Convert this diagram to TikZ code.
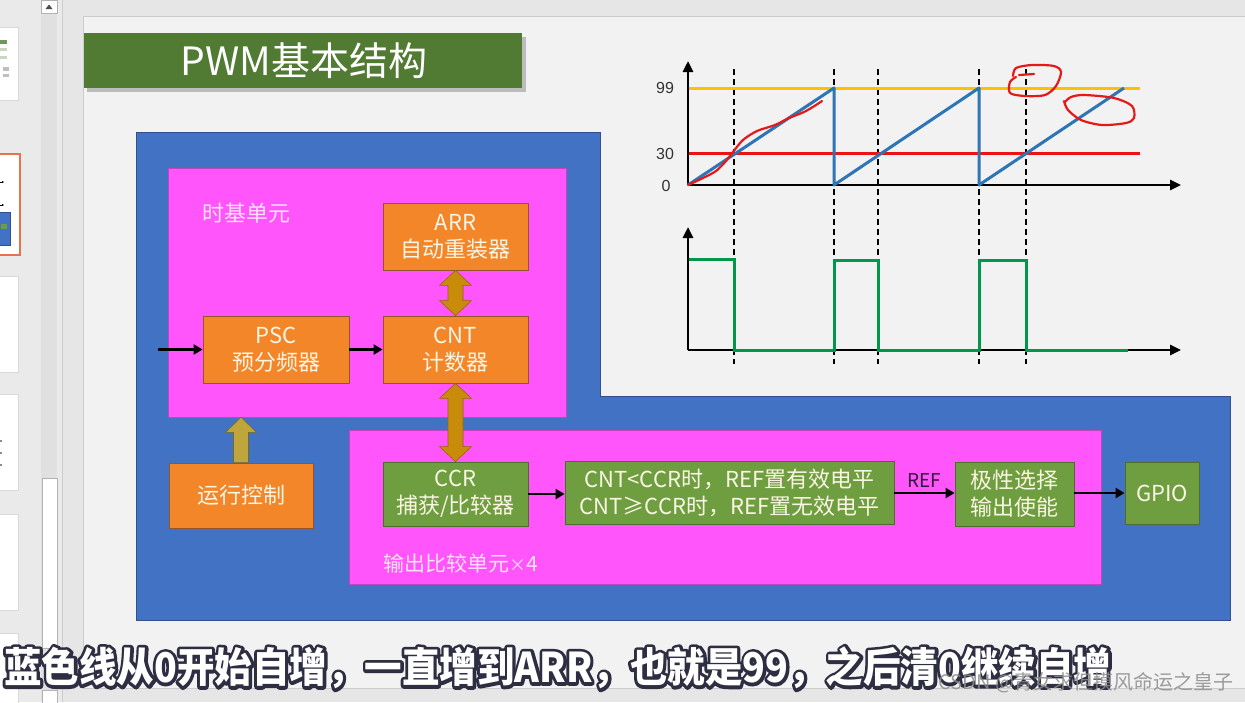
\documentclass[tikz,border=0pt]{standalone}
\usepackage{fontspec}
\setmainfont{Noto Sans CJK SC}
\newfontfamily\arialf{Liberation Sans}
\usetikzlibrary{arrows.meta,calc}
\definecolor{winbg}{RGB}{230,230,230}
\definecolor{sidebg}{RGB}{234,234,234}
\definecolor{slidebg}{RGB}{242,242,242}
\definecolor{titlegreen}{RGB}{81,122,51}
\definecolor{bblue}{RGB}{66,114,196}
\definecolor{bblueb}{RGB}{47,82,143}
\definecolor{magenta2}{RGB}{255,85,250}
\definecolor{magentab}{RGB}{190,70,190}
\definecolor{oboxc}{RGB}{244,134,42}
\definecolor{oboxb}{RGB}{150,85,40}
\definecolor{gboxc}{RGB}{110,158,63}
\definecolor{gboxb}{RGB}{75,110,45}
\definecolor{goldc}{RGB}{200,140,10}
\definecolor{goldb}{RGB}{150,100,10}
\definecolor{olivec}{RGB}{190,166,60}
\definecolor{oliveb}{RGB}{120,105,40}
\definecolor{boxtext}{RGB}{250,245,228}
\definecolor{labtext}{RGB}{255,225,255}
\definecolor{wblue}{RGB}{46,117,182}
\definecolor{wgreen}{RGB}{0,150,75}
\definecolor{worange}{RGB}{255,192,0}
\definecolor{wred}{RGB}{235,20,20}
\definecolor{inkred}{RGB}{230,25,25}
\definecolor{outlinec}{RGB}{45,45,65}
\definecolor{selorange}{RGB}{230,115,75}
\definecolor{refc}{RGB}{50,20,60}
\newcommand\vdarrow[4]{%
  \filldraw[fill=#3,draw=#4,line width=0.6] let \p1=(#1),\p2=(#2) in
   (\x1,\y1) -- (\x1+16pt,\y1-15pt) -- (\x1+7.5pt,\y1-15pt) -- (\x1+7.5pt,\y2+15pt)
   -- (\x1+16pt,\y2+15pt) -- (\x1,\y2) -- (\x1-16pt,\y2+15pt) -- (\x1-7.5pt,\y2+15pt)
   -- (\x1-7.5pt,\y1-15pt) -- (\x1-16pt,\y1-15pt) -- cycle;}
\newcommand\vuparrow[4]{%
  \filldraw[fill=#3,draw=#4,line width=0.6] let \p1=(#1),\p2=(#2) in
   (\x1-7.5pt,\y1) -- (\x1-7.5pt,\y2-15pt) -- (\x1-15.5pt,\y2-15pt) -- (\x1,\y2)
   -- (\x1+15.5pt,\y2-15pt) -- (\x1+7.5pt,\y2-15pt) -- (\x1+7.5pt,\y1) -- cycle;}
\newcommand\subtitletext{蓝色线从0开始自增，一直增到ARR，也就是99，之后清0继续自增}
\begin{document}
\begin{tikzpicture}[x=1pt,y=-1pt,
  boxtxt/.style={font=\fontsize{22}{27}\selectfont, text=boxtext, align=center},
  obox/.style={boxtxt, draw=oboxb, fill=oboxc, line width=0.8, inner sep=0pt},
  gbox/.style={boxtxt, draw=gboxb, fill=gboxc, line width=0.8, inner sep=0pt},
  mbox/.style={draw=magentab, fill=magenta2, line width=0.6, inner sep=0pt},
  blkarrow/.style={draw=black, line width=2.6, -{Triangle[length=9pt,width=10pt]}},
  axisarrow/.style={draw=black, line width=2.6, -{Triangle[length=11pt,width=10pt]}},
  guide/.style={draw=black, line width=1.6, dash pattern=on 6pt off 4pt},
  numlab/.style={font=\arialf\fontsize{16}{16}\selectfont, text=black!80},
  thumb/.style={fill=white, draw=black!15, line width=0.6},
  inkstroke/.style={draw=inkred, line width=2.2, line cap=round, line join=round},
  subfont/.style={font=\bfseries\fontsize{41}{41}\selectfont}
]
\useasboundingbox (0,0) rectangle (1245,702);
% ---------- window ----------
\fill[winbg] (0,0) rectangle (1245,702);
\fill[sidebg] (0,0) rectangle (62,702);
\fill[black!12] (41,0) rectangle (57,702);
\draw[black!20, line width=1] (62,0) -- (62,702);
% thumbnails
\filldraw[thumb] (-2,27) rectangle (18,100);
\fill[titlegreen!80] (0,40) rectangle (7,44);
\fill[titlegreen!30] (0,48) rectangle (7,51);
\fill[titlegreen!30] (0,56) rectangle (7,59);
\fill[black!25] (3,67) rectangle (9,71);
\fill[black!25] (3,74) rectangle (9,77);
\filldraw[fill=white, draw=selorange, line width=2.2] (-2,154) rectangle (20,255);
\draw[black, line width=0.8, -{Triangle[length=2pt,width=2pt]}] (0,182) -- (4,182);
\draw[black, line width=0.8, -{Triangle[length=2pt,width=2pt]}] (0,205) -- (4,205);
\filldraw[fill=bblue, draw=bblueb, line width=0.5] (-1,212) rectangle (10,245);
\fill[gboxc] (1,224) rectangle (7,229);
\filldraw[thumb] (-2,276) rectangle (18,372);
\filldraw[thumb] (-2,394) rectangle (18,490);
\fill[black!45] (0,440) rectangle (2,442);
\fill[black!45] (0,452) rectangle (2,454);
\fill[black!45] (0,464) rectangle (2,466);
\filldraw[thumb] (-2,514) rectangle (18,610);
\filldraw[thumb] (-2,633) rectangle (18,710);
% scrollbar
\filldraw[fill=white, draw=black!30, line width=0.8] (41.5,0) rectangle (57,13);
\fill[black!70] (45.5,9) -- (52.5,9) -- (49,4.5) -- cycle;
\filldraw[fill=white, draw=black!30, line width=0.8] (42,478) rectangle (57,648);
\filldraw[fill=white, draw=black!30, line width=0.8] (42,690) rectangle (57,703);
% ---------- slide ----------
\filldraw[fill=slidebg, draw=black!20, line width=0.8] (83,16) rectangle (1250,688);
% title
\fill[black, opacity=0.22] (87,37) rectangle (526,92);
\fill[titlegreen] (84,33) rectangle (522,88);
\node[font=\fontsize{39}{39}\selectfont, text=white] (title) at (304,61) {PWM基本结构};
% big blue L-shape
\filldraw[fill=bblue, draw=bblueb, line width=1] (136,132) -- (600,132) -- (600,396)
  -- (1230,396) -- (1230,620) -- (136,620) -- cycle;
% magenta units
\node[mbox, minimum width=398pt, minimum height=249pt] (tb) at (367,292.5) {};
\node[mbox, minimum width=752pt, minimum height=154pt] (oc) at (725,507) {};
\node[font=\fontsize{22}{22}\selectfont, text=labtext, anchor=west, inner sep=0pt] (tblab) at (202,213) {时基单元};
\node[font=\fontsize{21}{21}\selectfont, text=labtext, anchor=west, inner sep=0pt] (oclab) at (383,563) {输出比较单元{\fontsize{17}{17}\selectfont ×}4};
% boxes
\node[obox, minimum width=145pt, minimum height=67pt] (arr) at (455.5,236.5) {ARR\\自动重装器};
\node[obox, minimum width=146pt, minimum height=67pt] (psc) at (276,349.5) {PSC\\预分频器};
\node[obox, minimum width=145pt, minimum height=67pt] (cnt) at (455.5,349.5) {CNT\\计数器};
\node[obox, minimum width=144pt, minimum height=65pt] (run) at (241,495.5) {运行控制};
\node[gbox, minimum width=145pt, minimum height=64pt] (ccr) at (455.5,494) {CCR\\捕获/比较器};
\node[gbox, minimum width=329pt, minimum height=63pt] (cmp) at (729.5,493) {CNT<CCR时，REF置有效电平\\CNT≥CCR时，REF置无效电平};
\node[gbox, minimum width=119pt, minimum height=64pt] (pol) at (1014.5,494) {极性选择\\输出使能};
\node[gbox, minimum width=74pt, minimum height=62pt] (gpio) at (1162,493) {GPIO};
% block arrows
\vdarrow{arr.south}{cnt.north}{goldc}{goldb}
\vdarrow{cnt.south}{ccr.north}{goldc}{goldb}
\vuparrow{run.north}{tb.south}{olivec}{oliveb}
% line arrows
\coordinate (in) at (158,349.5);
\draw[blkarrow] (in) -- (psc.west);
\draw[blkarrow] (psc.east) -- (cnt.west);
\draw[blkarrow] (ccr.east) -- (ccr.east -| cmp.west);
\draw[blkarrow] (cmp.east) -- node[midway, above, inner sep=4pt, font=\fontsize{19}{19}\selectfont, text=refc] (reflab) {REF} (cmp.east -| pol.west);
\draw[blkarrow] (pol.east |- gpio.west) -- (gpio.west);
% ---------- waveform ----------
\foreach \gx in {734,834,878,979,1026} {\draw[guide] (\gx,69) -- (\gx,364);}
\draw[worange, line width=3] (688,88) -- (1140,88);
\draw[wred, line width=3] (688,153.5) -- (1140,153.5);
\draw[axisarrow] (688,185) -- (688,61);
\draw[axisarrow] (688,185) -- (1181,185);
\draw[axisarrow] (688,350) -- (688,227);
\draw[axisarrow] (688,350) -- (1181,350);
\draw[wblue, line width=3, line join=round] (688,185) -- (834,88) -- (834,185) -- (979,88) -- (979,185) -- (1124,88);
\draw[wgreen, line width=3, line join=miter] (689,259) -- (734,259) -- (734,350) -- (834,350) -- (834,260) -- (878,260) -- (878,350) -- (979,350) -- (979,260) -- (1026,260) -- (1026,350) -- (1128,350);
\node[numlab] (l99) at (665,88) {99};
\node[numlab] (l30) at (665,154) {30};
\node[numlab] (l0) at (666,186) {0};
% red ink annotations
\draw[inkstroke] plot[smooth] coordinates {(688,185) (703,178) (716,171) (726,161) (733,152) (743,140) (757,131) (775,125) (789,118) (804,112) (816,105) (822,101)};
\draw[inkstroke] plot[smooth] coordinates {(1016,77) (1010,82) (1010,93) (1025,96) (1045,95) (1056,86) (1061,72) (1054,66) (1032,65) (1016,68) (1013,76)};
\draw[inkstroke] (1019,75) -- (1034,74);
\draw[inkstroke] plot[smooth] coordinates {(1065,102) (1071,97) (1084,95) (1114,98) (1132,106) (1134,118) (1126,123) (1102,125) (1081,120) (1068,110) (1064,101)};
% ---------- subtitle (stroked outline behind, white fill on top) ----------
\node[anchor=west, inner sep=0pt, text=outlinec, subfont] (subo) at (4,668) {\scalebox{0.915}[1]{\special{pdf:literal direct 0.18 0.18 0.26 RG 1 j 6.5 w 2 Tr}\subtitletext\special{pdf:literal direct 0 Tr}}};
\node[anchor=west, inner sep=0pt, text=white, subfont] (sub) at (4,668) {\scalebox{0.915}[1]{\subtitletext}};
\node[anchor=west, inner sep=0pt, text=black!45, opacity=0.85, font=\fontsize{20}{20}\selectfont] (wm) at (938,683) {CSDN @青女求但摸风命运之皇子};
\end{tikzpicture}
\end{document}
